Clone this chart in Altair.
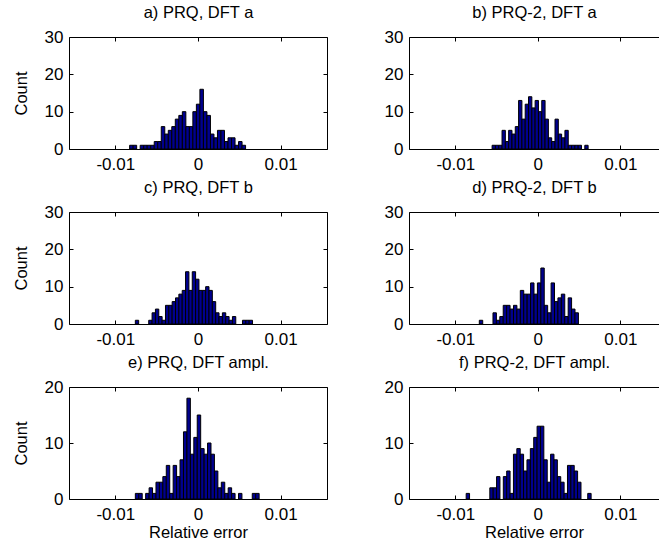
import altair as alt
import pandas as pd

# ---- data: histogram bins (start of first bin, bin width, counts) ----
titles = ["a) PRQ, DFT a", "b) PRQ-2, DFT a",
          "c) PRQ, DFT b", "d) PRQ-2, DFT b",
          "e) PRQ, DFT ampl.", "f) PRQ-2, DFT ampl."]

start_a, width_a = -0.00827, 0.000425
counts_a = [1, 1, 0, 1, 1, 1, 1, 2, 2, 6, 4, 5, 6, 8, 9, 10, 6, 6, 10, 12,
            16, 10, 9, 4, 3, 5, 5, 2, 3, 3, 1, 2, 1]

start_b, width_b = -0.00554, 0.000401
counts_b = [1, 1, 1, 5, 2, 5, 4, 6, 13, 8, 12, 14, 11, 13, 10, 13, 8, 3, 2, 8,
            4, 3, 5, 1, 1, 1, 1, 0, 1]

start_c, width_c = -0.00758, 0.000405
counts_c = [1, 0, 0, 0, 1, 3, 4, 2, 1, 5, 5, 6, 7, 8, 9, 14, 9, 14, 12, 9,
            9, 10, 9, 6, 3, 2, 3, 2, 1, 2, 0, 0, 1, 1, 1]

start_d, width_d = -0.00709, 0.000414
counts_d = [1, 0, 0, 0, 3, 1, 2, 5, 5, 4, 5, 4, 9, 8, 8, 11, 8, 11, 15, 5,
            3, 11, 6, 7, 8, 2, 7, 4, 3]

start_e, width_e = -0.00758, 0.000416
counts_e = [1, 1, 0, 1, 2, 1, 3, 3, 4, 6, 1, 6, 4, 7, 12, 18, 8, 11, 15, 9,
            8, 10, 8, 5, 2, 3, 1, 2, 1, 0, 1, 0, 0, 0, 1, 1]

start_f, width_f = -0.00868, 0.000409
counts_f = [1, 0, 0, 0, 0, 0, 0, 2, 2, 4, 0, 4, 5, 1, 8, 9, 8, 5, 7, 9,
            11, 13, 13, 7, 3, 8, 7, 4, 3, 1, 6, 6, 5, 3, 0, 0, 1]

x_ticks = [-0.01, 0, 0.01]
y_ticks_top = [0, 10, 20, 30]
y_ticks_bottom = [0, 10, 20]

# ---- styling ----
FONT = "Liberation Sans"
FS_TICK = 17
FS_TEXT = 16.5
BAR_FILL = "#00008F"
W_LEFT, W_RIGHT, H = 258, 250, 112
X_MIN = -0.015
X_MAX_LEFT = 0.015
X_MAX_RIGHT = -0.015 + W_RIGHT / W_LEFT * 0.03
TICK = 4


def panel(title, start, width, counts, y_ticks, left_col, bottom_row):
    n = len(counts)
    df = pd.DataFrame({
        "x0": [start + i * width for i in range(n)],
        "x1": [start + (i + 1) * width for i in range(n)],
        "count": counts,
    })
    df = df[df["count"] > 0].copy()
    df["base"] = 0
    w = W_LEFT if left_col else W_RIGHT
    xmax = X_MAX_LEFT if left_col else X_MAX_RIGHT
    ymax = y_ticks[-1]
    xscale = alt.Scale(domain=[X_MIN, xmax], nice=False, zero=False)
    yscale = alt.Scale(domain=[0, ymax], nice=False, zero=False)

    xaxis_kw = dict(
        orient="bottom",
        values=x_ticks,
        labelExpr="datum.value < 0 ? '-0.01' : (datum.value > 0 ? '0.01' : '0')",
        labelFont=FONT, labelFontSize=FS_TICK, labelColor="black", labelPadding=7,
        ticks=False, tickSize=0, domainColor="black", domainWidth=1,
        grid=True, gridColor="black", gridOpacity=1, gridWidth=1,
        gridDash=[TICK, H - 2 * TICK, TICK, 2000],
        labelFlush=False, labelOverlap=False,
    )
    if bottom_row:
        xaxis_kw.update(title="Relative error", titleFont=FONT, titleFontSize=FS_TEXT,
                        titleFontWeight="normal", titleColor="black",
                        titlePadding=2)
    else:
        xaxis_kw.update(title=None)

    yaxis_kw = dict(
        orient="left",
        values=y_ticks,
        labelFont=FONT, labelFontSize=FS_TICK, labelColor="black", labelPadding=6,
        ticks=False, tickSize=0, domainColor="black", domainWidth=1,
        grid=True, gridColor="black", gridOpacity=1, gridWidth=1,
        gridDash=([TICK, w - 2 * TICK, TICK, 2000] if left_col else [TICK, 2000]),
        labelFlush=False, labelOverlap=False,
    )
    if left_col:
        yaxis_kw.update(title="Count", titleFont=FONT, titleFontSize=FS_TEXT,
                        titleFontWeight="normal", titleColor="black",
                        titleX=-48, titleY=H / 2, titleAngle=270,
                        titleBaseline="middle", titleAlign="center")
    else:
        yaxis_kw.update(title=None)

    bars = alt.Chart(df).mark_bar(
        fill=BAR_FILL, stroke="black", strokeWidth=1, opacity=1, orient="vertical"
    ).encode(
        x=alt.X("x0:Q", scale=xscale, axis=alt.Axis(**xaxis_kw)),
        x2="x1:Q",
        y=alt.Y("count:Q", scale=yscale, axis=alt.Axis(**yaxis_kw)),
        y2="base:Q",
    )

    # top axis: frame line + panel title
    top_axis = alt.Axis(orient="top", labels=False, ticks=False, grid=False,
                        domainColor="black", domainWidth=1,
                        title=title, titleFont=FONT, titleFontSize=FS_TEXT,
                        titleFontWeight="normal", titleColor="black",
                        titleX=w / 2, titleY=-20, titleAlign="center",
                        titleBaseline="alphabetic", titleAngle=0)
    if left_col:
        right_axis = alt.Axis(orient="right", labels=False, ticks=False, grid=False,
                              domainColor="black", domainWidth=1, title=None)
    else:
        right_axis = None
    frame = alt.Chart(df).mark_point(opacity=0).encode(
        x=alt.X("x0:Q", scale=xscale, axis=top_axis),
        y=alt.Y("count:Q", scale=yscale, axis=right_axis),
    )

    return alt.layer(bars, frame).resolve_axis(
        x="independent", y="independent"
    ).properties(width=w, height=H)


panels = [
    panel(titles[0], start_a, width_a, counts_a, y_ticks_top, True, False),
    panel(titles[1], start_b, width_b, counts_b, y_ticks_top, False, False),
    panel(titles[2], start_c, width_c, counts_c, y_ticks_top, True, False),
    panel(titles[3], start_d, width_d, counts_d, y_ticks_top, False, False),
    panel(titles[4], start_e, width_e, counts_e, y_ticks_bottom, True, True),
    panel(titles[5], start_f, width_f, counts_f, y_ticks_bottom, False, True),
]

chart = alt.concat(
    *panels, columns=2, spacing={"row": 63, "column": 82}, bounds="flush"
).properties(
    padding={"left": 13, "top": 4, "right": 0, "bottom": 0},
    background="white",
).configure_view(stroke=None)

chart.save("out.html", embed_options={"renderer": "svg", "actions": False})
